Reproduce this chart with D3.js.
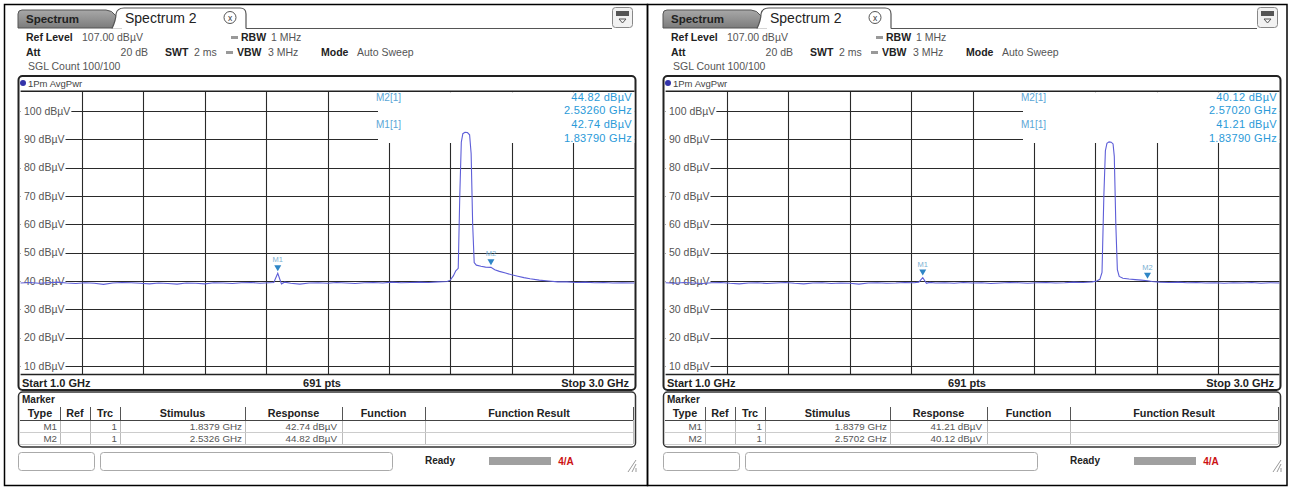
<!DOCTYPE html>
<html><head><meta charset="utf-8">
<script src="https://cdn.jsdelivr.net/npm/d3@7"></script>
<style>
body{margin:0;background:#fff}
svg{display:block}
text{font-family:"Liberation Sans",Arial,sans-serif}
</style>
</head><body>
<svg id="c" width="1291" height="489"></svg>
<script>
// ---------- data ----------
const freqDomain = [1.0, 3.0];
const levelDomain = [7, 107];
const levelTicks = [100, 90, 80, 70, 60, 50, 40, 30, 20, 10];
const freqGrid = [1.2, 1.4, 1.6, 1.8, 2.0, 2.2, 2.4, 2.6, 2.8];
const tableColumns = ["Type", "Ref", "Trc", "Stimulus", "Response", "Function", "Function Result"];

const traceAFreq = [1.00,1.03,1.06,1.09,1.12,1.15,1.18,1.21,1.24,1.27,1.30,1.33,1.36,1.39,1.42,1.45,1.48,1.51,1.54,1.57,1.60,1.63,1.66,1.69,1.72,1.75,1.78,1.81,1.825,1.8379,1.85,1.86,1.88,1.91,1.94,1.97,2.00,2.03,2.06,2.09,2.12,2.15,2.18,2.21,2.24,2.27,2.30,2.33,2.36,2.39,2.40,2.41,2.418,2.426,2.431,2.436,2.441,2.448,2.456,2.463,2.468,2.473,2.478,2.485,2.50,2.515,2.5326,2.545,2.56,2.58,2.60,2.62,2.64,2.66,2.69,2.72,2.75,2.78,2.81,2.84,2.87,2.90,2.93,2.96,3.00];
const traceALevel = [39.3,39.5,39.2,39.4,39.6,39.3,39.1,39.4,39.2,38.8,39.3,39.5,39.4,39.2,39.0,39.3,39.1,38.9,39.3,39.2,39.0,39.4,39.3,39.1,39.4,39.5,39.2,39.4,39.5,42.74,39.0,39.6,39.2,38.9,39.3,39.4,39.2,39.5,39.3,39.1,39.4,39.5,39.3,39.6,39.4,39.5,39.6,39.5,39.7,39.8,40.3,41.8,43.6,44.5,70.0,89.0,92.0,92.5,92.4,91.6,85.0,60.0,46.5,45.6,45.2,44.9,44.82,44.0,43.4,42.8,42.2,41.7,41.2,40.8,40.3,40.0,39.7,39.7,39.5,39.6,39.4,39.5,39.3,39.4,39.3];

const traceBFreq = [1.00,1.03,1.06,1.09,1.12,1.15,1.18,1.21,1.24,1.27,1.30,1.33,1.36,1.39,1.42,1.45,1.48,1.51,1.54,1.57,1.60,1.63,1.66,1.69,1.72,1.75,1.78,1.81,1.825,1.8379,1.85,1.86,1.88,1.91,1.94,1.97,2.00,2.03,2.06,2.09,2.12,2.15,2.18,2.21,2.24,2.27,2.30,2.33,2.36,2.39,2.405,2.415,2.422,2.428,2.433,2.438,2.445,2.452,2.458,2.462,2.467,2.472,2.478,2.49,2.51,2.53,2.55,2.5702,2.585,2.61,2.64,2.67,2.70,2.73,2.76,2.79,2.82,2.85,2.88,2.91,2.94,2.97,3.00];
const traceBLevel = [39.4,39.2,39.5,39.3,39.1,39.4,39.5,39.2,39.0,39.3,39.4,39.1,39.3,39.5,39.2,39.0,39.3,39.4,39.1,39.3,39.2,38.9,39.3,39.4,39.2,39.3,39.5,39.4,39.6,41.21,39.2,39.5,39.3,39.4,39.2,39.5,39.3,39.4,39.1,39.3,39.5,39.4,39.2,39.4,39.5,39.3,39.4,39.6,39.5,39.7,40.0,40.6,43.0,70.0,86.0,88.6,89.1,89.0,88.4,84.0,60.0,44.0,41.6,41.0,40.7,40.5,40.3,40.12,39.8,39.6,39.5,39.6,39.4,39.5,39.3,39.4,39.2,39.4,39.3,39.5,39.2,39.4,39.3];

const markerNames = ["M1", "M2"];
const markerAFreq = [1.8379, 2.5326];
const markerALevel = [42.74, 44.82];
const markerBFreq = [1.8379, 2.5702];
const markerBLevel = [41.21, 40.12];

// ---------- drawing ----------
const svg = d3.select("#c");
svg.append("rect").attr("x",4.5).attr("y",4.5).attr("width",643).attr("height",481).attr("fill","none").attr("stroke","#000").attr("stroke-width",1.5);
svg.append("rect").attr("x",647.5).attr("y",4.5).attr("width",639.5).attr("height",481).attr("fill","none").attr("stroke","#000").attr("stroke-width",1.5);

function panel(ox, fr, lv, mf, ml) {
  const g = svg.append("g").attr("transform", `translate(${ox},0)`);
  // tabs
  const grad = svg.append("defs").append("linearGradient").attr("id","tg"+ox).attr("x1",0).attr("y1",0).attr("x2",0).attr("y2",1);
  grad.append("stop").attr("offset",0).attr("stop-color","#a8a8a8");
  grad.append("stop").attr("offset",1).attr("stop-color","#7c7c7c");
  g.append("path").attr("d","M18,28 L18,14 Q18,10 22,10 L106,10 Q112,10 116,16 L122,28 Z")
    .attr("fill",`url(#tg${ox})`).attr("stroke","#555");
  g.append("path").attr("d","M112,28.5 Q116,20 116,14 Q117,8 124,8 L240,8 Q246,8 246,14 L246,28.5")
    .attr("fill","#fff").attr("stroke","#555").attr("stroke-width",1.2);
  g.append("text").attr("x",26).attr("y",23).attr("font-size",11.5).attr("font-weight","bold").attr("fill","#222").text("Spectrum");
  g.append("text").attr("x",125).attr("y",23).attr("font-size",14).attr("fill","#222").text("Spectrum 2");
  g.append("circle").attr("cx",230).attr("cy",17.5).attr("r",6).attr("fill","#fff").attr("stroke","#555");
  g.append("text").attr("x",230).attr("y",20.5).attr("text-anchor","middle").attr("font-size",8.5).attr("fill","#333").text("x");
  g.append("line").attr("x1",246).attr("x2",612).attr("y1",28.5).attr("y2",28.5).attr("stroke","#555");
  g.append("rect").attr("x",612.5).attr("y",7.5).attr("width",20).attr("height",20).attr("rx",3).attr("fill","#f2f2f2").attr("stroke","#888");
  g.append("rect").attr("x",616).attr("y",11).attr("width",13).attr("height",5).attr("fill","#555");
  g.append("path").attr("d","M619,19 L626,19 L622.5,23 Z").attr("fill","none").attr("stroke","#555");

  // header
  const hdr = [
    [26,41,"Ref Level",true],[82,41,"107.00 dBµV",false],[241,41,"RBW",true],[271,41,"1 MHz",false],
    [26,56,"Att",true],[165,56,"SWT",true],[194,56,"2 ms",false],[237,56,"VBW",true],[268,56,"3 MHz",false],
    [321,56,"Mode",true],[357,56,"Auto Sweep",false],[28,70,"SGL Count 100/100",false]
  ];
  hdr.forEach(h => g.append("text").attr("x",h[0]).attr("y",h[1]).attr("font-size",10.5)
    .attr("font-weight",h[3]?"bold":"normal").attr("fill",h[3]?"#222":"#555").text(h[2]));
  g.append("text").attr("x",148).attr("y",56).attr("text-anchor","end").attr("font-size",10.5).attr("fill","#555").text("20 dB");
  g.append("rect").attr("x",231).attr("y",36).attr("width",7).attr("height",3).attr("fill","#999");
  g.append("rect").attr("x",226).attr("y",51).attr("width",7).attr("height",3).attr("fill","#999");

  // plot frame
  g.append("rect").attr("x",18.5).attr("y",76).attr("width",617).attr("height",314).attr("rx",4)
    .attr("fill","#fff").attr("stroke","#222").attr("stroke-width",2);
  g.append("circle").attr("cx",23).attr("cy",83).attr("r",3).attr("fill","#3333aa");
  g.append("text").attr("x",28).attr("y",86.5).attr("font-size",9.5).attr("fill","#444").text("1Pm AvgPwr");

  const x = d3.scaleLinear().domain(freqDomain).range([20.6, 634.4]);
  const y = d3.scaleLinear().domain(levelDomain).range([374.5, 91.2]);

  const grid = g.append("g").attr("stroke","#2a2a2a").attr("stroke-width",1.1);
  levelTicks.forEach(v => grid.append("line").attr("x1",x(1)).attr("x2",x(3)).attr("y1",Math.round(y(v))+0.5).attr("y2",Math.round(y(v))+0.5));
  freqGrid.forEach(f => grid.append("line").attr("x1",Math.round(x(f))+0.5).attr("x2",Math.round(x(f))+0.5).attr("y1",y(107)).attr("y2",y(7)));
  grid.append("line").attr("x1",x(1)).attr("x2",x(3)).attr("y1",y(107)).attr("y2",y(107)).attr("stroke","#222").attr("stroke-width",1.5);
  grid.append("line").attr("x1",x(1)).attr("x2",x(3)).attr("y1",y(7)).attr("y2",y(7)).attr("stroke","#222").attr("stroke-width",1.5);
  // marker info box cover
  g.append("rect").attr("x",378).attr("y",y(107)+1).attr("width",x(3)-378).attr("height",143-y(107)-1).attr("fill","#fff");

  // y labels
  levelTicks.forEach(v => {
    const t = g.append("text").attr("x",24).attr("y",y(v)+3.5).attr("font-size",10.5).attr("fill","#555").text(v+" dBµV");
    const w = t.node().getComputedTextLength();
    g.insert("rect","text:last-child").attr("x",21).attr("y",y(v)-5).attr("width",w+4).attr("height",10).attr("fill","#fff");
  });

  // trace
  const pts = fr.map((f,i)=>[f, lv[i]]);
  g.append("path").datum(pts).attr("fill","none").attr("stroke","#5e5ed8").attr("stroke-width",1.1)
    .attr("d", d3.line().x(d=>x(d[0])).y(d=>y(d[1])));

  // markers
  markerNames.forEach((m,i) => {
    const mx = x(mf[i]), my = y(ml[i]);
    g.append("path").attr("d",`M${mx-3.5},${my-8} L${mx+3.5},${my-8} L${mx},${my-2} Z`).attr("fill","#2f86c6");
    g.append("text").attr("x",mx).attr("y",my-11).attr("text-anchor","middle").attr("font-size",7.5).attr("fill","#7ab0d2").text(m);
  });

  // marker info
  const ic = "#2a9ad8";
  [[1,100.5],[0,128]].forEach(([i,yy]) => {
    g.append("text").attr("x",376).attr("y",yy).attr("font-size",10).attr("fill","#5aa6d6").text(markerNames[i]+"[1]");
    g.append("text").attr("x",632).attr("y",yy).attr("text-anchor","end").attr("font-size",11).attr("letter-spacing",0.3).attr("fill",ic).text(ml[i].toFixed(2)+" dBµV");
    g.append("text").attr("x",632).attr("y",yy+13.5).attr("text-anchor","end").attr("font-size",11).attr("letter-spacing",0.3).attr("fill",ic).text(mf[i].toFixed(5)+" GHz");
  });

  // bottom labels
  g.append("text").attr("x",22).attr("y",387).attr("font-size",11).attr("font-weight","bold").attr("fill","#222").text("Start "+freqDomain[0].toFixed(1)+" GHz");
  g.append("text").attr("x",322).attr("y",387).attr("text-anchor","middle").attr("font-size",11).attr("font-weight","bold").attr("fill","#222").text("691 pts");
  g.append("text").attr("x",629).attr("y",387).attr("text-anchor","end").attr("font-size",11).attr("font-weight","bold").attr("fill","#222").text("Stop "+freqDomain[1].toFixed(1)+" GHz");

  // marker table
  g.append("rect").attr("x",18.5).attr("y",392).attr("width",617).attr("height",55).attr("rx",4).attr("fill","#fff").attr("stroke","#333").attr("stroke-width",1.5);
  g.append("text").attr("x",22).attr("y",403).attr("font-size",10).attr("font-weight","bold").attr("fill","#222").text("Marker");
  const seps = [20,60,90,120,245,342,425,633];
  tableColumns.forEach((c,i) => g.append("text").attr("x",(seps[i]+seps[i+1])/2).attr("y",417).attr("text-anchor","middle")
    .attr("font-size",10.8).attr("font-weight","bold").attr("fill","#222").text(c));
  seps.slice(1).forEach(s => {
    g.append("line").attr("x1",s+0.5).attr("x2",s+0.5).attr("y1",407).attr("y2",420).attr("stroke","#555");
    g.append("line").attr("x1",s+0.5).attr("x2",s+0.5).attr("y1",420).attr("y2",444).attr("stroke","#bbb");
  });
  g.append("line").attr("x1",20).attr("x2",633).attr("y1",420.5).attr("y2",420.5).attr("stroke","#444");
  g.append("line").attr("x1",20).attr("x2",633).attr("y1",432.5).attr("y2",432.5).attr("stroke","#ccc");
  g.append("line").attr("x1",20).attr("x2",633).attr("y1",444.5).attr("y2",444.5).attr("stroke","#ccc");
  markerNames.forEach((m,i) => {
    const yy = 429.5 + i*12;
    const row = [[57,m],[117,"1"],[242,mf[i].toFixed(4)+" GHz"],[337,ml[i].toFixed(2)+" dBµV"]];
    row.forEach(r => g.append("text").attr("x",r[0]).attr("y",yy).attr("text-anchor","end").attr("font-size",9.8).attr("fill","#555").text(r[1]));
  });

  // status bar
  g.append("rect").attr("x",18.5).attr("y",452.5).attr("width",76).attr("height",18).attr("rx",3).attr("fill","#fff").attr("stroke","#aaa");
  g.append("rect").attr("x",100.5).attr("y",452.5).attr("width",292).attr("height",18).attr("rx",3).attr("fill","#fff").attr("stroke","#aaa");
  g.append("text").attr("x",425).attr("y",464).attr("font-size",10).attr("font-weight","bold").attr("fill","#222").text("Ready");
  g.append("rect").attr("x",489).attr("y",457).attr("width",62).attr("height",8).attr("fill","#a0a0a0");
  g.append("text").attr("x",566).attr("y",465).attr("text-anchor","middle").attr("font-size",10).attr("font-weight","bold").attr("fill","#cc1111").text("4/A");
  [0,4,8].forEach(d => g.append("line").attr("x1",636-d).attr("y1",472).attr("x2",636).attr("y2",472-d-4).attr("stroke","#999"));
}

panel(0, traceAFreq, traceALevel, markerAFreq, markerALevel);
panel(645, traceBFreq, traceBLevel, markerBFreq, markerBLevel);
</script>
</body></html>
